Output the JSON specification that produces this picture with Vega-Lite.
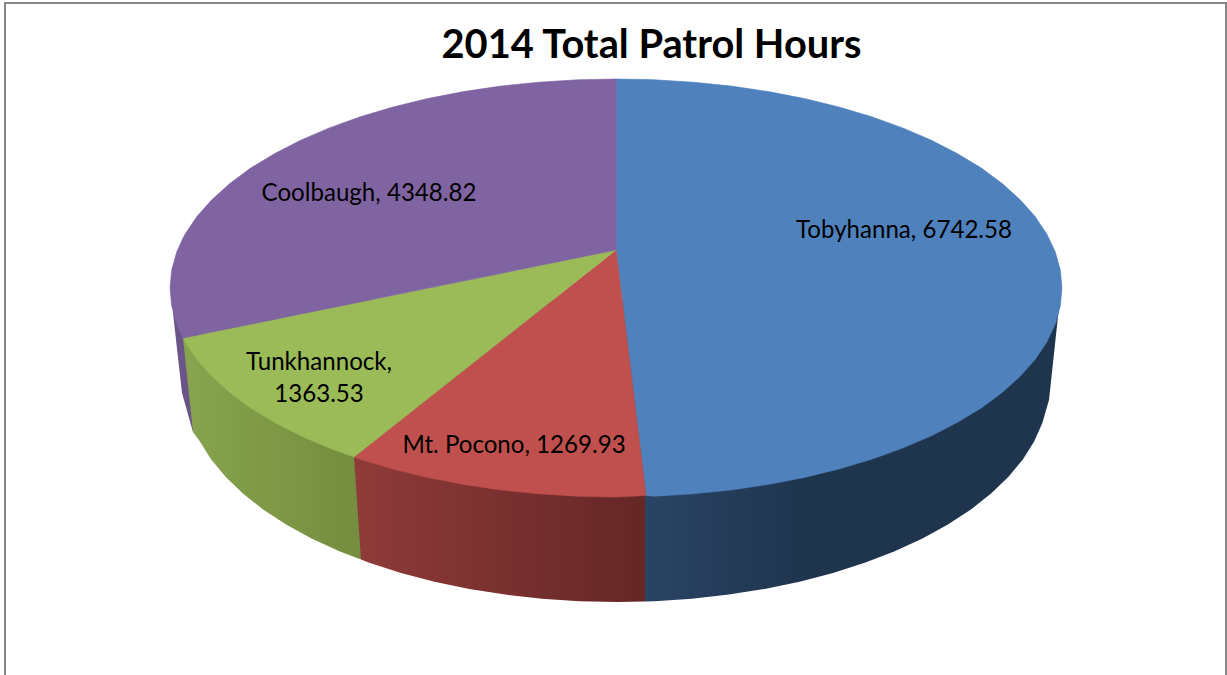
{
"$schema":"https://vega.github.io/schema/vega-lite/v6.json",
"width":1227,"height":675,"padding":0,"autosize":"none","background":"white",
"config":{"view":{"stroke":null}},
"title":{"text":"2014 Total Patrol Hours","font":"Lato","fontWeight":"bold","fontSize":39.8,"color":"#000000","anchor":"middle","dx":38,"offset":-106,"baseline":"bottom"},
"datasets":{
"frame":[{"x":5,"x2":1226,"y":3,"y2":720}],
"side":[
{"slice":"Coolbaugh","x":173,"y":300,"y2":313},{"slice":"Coolbaugh","x":176.8,"y":300,"y2":347},{"slice":"Coolbaugh","x":182,"y":300,"y2":393},{"slice":"Coolbaugh","x":193,"y":300,"y2":432},
{"slice":"Tunkhannock","x":183,"y":300,"y2":338},{"slice":"Tunkhannock","x":193,"y":300,"y2":432},{"slice":"Tunkhannock","x":199.7,"y":300,"y2":441.2},{"slice":"Tunkhannock","x":211,"y":300,"y2":459.2},{"slice":"Tunkhannock","x":225.5,"y":300,"y2":476.7},{"slice":"Tunkhannock","x":242.9,"y":300,"y2":493.5},{"slice":"Tunkhannock","x":263.1,"y":300,"y2":509.5},{"slice":"Tunkhannock","x":286.1,"y":300,"y2":524.5},{"slice":"Tunkhannock","x":311.5,"y":300,"y2":538.4},{"slice":"Tunkhannock","x":339.3,"y":300,"y2":551.2},{"slice":"Tunkhannock","x":361,"y":300,"y2":559.5},
{"slice":"Mt. Pocono","x":354,"y":300,"y2":457},{"slice":"Mt. Pocono","x":361,"y":300,"y2":559.5},{"slice":"Mt. Pocono","x":369.2,"y":300,"y2":562.8},{"slice":"Mt. Pocono","x":401,"y":300,"y2":572.9},{"slice":"Mt. Pocono","x":434.4,"y":300,"y2":581.7},{"slice":"Mt. Pocono","x":469.3,"y":300,"y2":588.9},{"slice":"Mt. Pocono","x":505.2,"y":300,"y2":594.6},{"slice":"Mt. Pocono","x":542,"y":300,"y2":598.7},{"slice":"Mt. Pocono","x":579.3,"y":300,"y2":601.2},{"slice":"Mt. Pocono","x":617,"y":300,"y2":602},{"slice":"Mt. Pocono","x":645,"y":300,"y2":601.5},
{"slice":"Tobyhanna","x":645,"y":300,"y2":601.5},{"slice":"Tobyhanna","x":654.7,"y":300,"y2":601.2},{"slice":"Tobyhanna","x":692,"y":300,"y2":598.7},{"slice":"Tobyhanna","x":728.8,"y":300,"y2":594.6},{"slice":"Tobyhanna","x":764.7,"y":300,"y2":588.9},{"slice":"Tobyhanna","x":799.6,"y":300,"y2":581.7},{"slice":"Tobyhanna","x":833,"y":300,"y2":572.9},{"slice":"Tobyhanna","x":864.8,"y":300,"y2":562.8},{"slice":"Tobyhanna","x":894.7,"y":300,"y2":551.2},{"slice":"Tobyhanna","x":922.5,"y":300,"y2":538.4},{"slice":"Tobyhanna","x":947.9,"y":300,"y2":524.5},{"slice":"Tobyhanna","x":970.9,"y":300,"y2":509.5},{"slice":"Tobyhanna","x":991.1,"y":300,"y2":493.5},{"slice":"Tobyhanna","x":1008.5,"y":300,"y2":476.7},{"slice":"Tobyhanna","x":1023,"y":300,"y2":459.2},{"slice":"Tobyhanna","x":1034.3,"y":300,"y2":441.2},{"slice":"Tobyhanna","x":1042.4,"y":300,"y2":422.7},{"slice":"Tobyhanna","x":1049,"y":300,"y2":400},{"slice":"Tobyhanna","x":1059,"y":300,"y2":307}
],
"top":[
{"slice":"Tobyhanna","x":616,"y":79,"y2":250},{"slice":"Tobyhanna","x":646,"y":79.5,"y2":495.5},{"slice":"Tobyhanna","x":654.9,"y":79.8,"y2":496.2},{"slice":"Tobyhanna","x":693.4,"y":82.2,"y2":493.8},{"slice":"Tobyhanna","x":731.4,"y":86.1,"y2":489.9},{"slice":"Tobyhanna","x":768.5,"y":91.6,"y2":484.4},{"slice":"Tobyhanna","x":804.5,"y":98.6,"y2":477.4},{"slice":"Tobyhanna","x":839,"y":107,"y2":469},{"slice":"Tobyhanna","x":871.8,"y":116.8,"y2":459.2},{"slice":"Tobyhanna","x":902.7,"y":127.9,"y2":448.1},{"slice":"Tobyhanna","x":931.4,"y":140.2,"y2":435.8},{"slice":"Tobyhanna","x":957.6,"y":153.7,"y2":422.3},{"slice":"Tobyhanna","x":981.4,"y":168.1,"y2":407.9},{"slice":"Tobyhanna","x":1002.2,"y":183.5,"y2":392.5},{"slice":"Tobyhanna","x":1020.2,"y":199.7,"y2":376.3},{"slice":"Tobyhanna","x":1035.1,"y":216.5,"y2":359.5},{"slice":"Tobyhanna","x":1046.8,"y":233.9,"y2":342.1},{"slice":"Tobyhanna","x":1055.2,"y":251.7,"y2":324.3},{"slice":"Tobyhanna","x":1060.3,"y":269.8,"y2":306.2},{"slice":"Tobyhanna","x":1062,"y":288,"y2":288},
{"slice":"Mt. Pocono","x":354,"y":457,"y2":457},{"slice":"Mt. Pocono","x":360.2,"y":452.1,"y2":459.2},{"slice":"Mt. Pocono","x":393,"y":426.2,"y2":469},{"slice":"Mt. Pocono","x":427.5,"y":398.9,"y2":477.4},{"slice":"Mt. Pocono","x":463.5,"y":370.5,"y2":484.4},{"slice":"Mt. Pocono","x":500.6,"y":341.2,"y2":489.9},{"slice":"Mt. Pocono","x":538.6,"y":311.2,"y2":493.8},{"slice":"Mt. Pocono","x":577.1,"y":280.8,"y2":496.2},{"slice":"Mt. Pocono","x":616,"y":250,"y2":497},{"slice":"Mt. Pocono","x":646,"y":495.5,"y2":495.5},
{"slice":"Tunkhannock","x":183,"y":338,"y2":338},{"slice":"Tunkhannock","x":185.2,"y":337.6,"y2":342.1},{"slice":"Tunkhannock","x":196.9,"y":335.2,"y2":359.5},{"slice":"Tunkhannock","x":211.8,"y":332.1,"y2":376.3},{"slice":"Tunkhannock","x":229.8,"y":328.5,"y2":392.5},{"slice":"Tunkhannock","x":250.6,"y":324.3,"y2":407.9},{"slice":"Tunkhannock","x":274.4,"y":319.4,"y2":422.3},{"slice":"Tunkhannock","x":300.6,"y":314.1,"y2":435.8},{"slice":"Tunkhannock","x":329.3,"y":308.3,"y2":448.1},{"slice":"Tunkhannock","x":354,"y":303.2,"y2":457},{"slice":"Tunkhannock","x":616,"y":250,"y2":250},
{"slice":"Coolbaugh","x":170,"y":288,"y2":288},{"slice":"Coolbaugh","x":171.7,"y":269.8,"y2":306.2},{"slice":"Coolbaugh","x":176.8,"y":251.7,"y2":324.3},{"slice":"Coolbaugh","x":183,"y":238,"y2":338},{"slice":"Coolbaugh","x":185.2,"y":233.9,"y2":337.6},{"slice":"Coolbaugh","x":196.9,"y":216.5,"y2":335.2},{"slice":"Coolbaugh","x":211.8,"y":199.7,"y2":332.1},{"slice":"Coolbaugh","x":229.8,"y":183.5,"y2":328.5},{"slice":"Coolbaugh","x":250.6,"y":168.1,"y2":324.3},{"slice":"Coolbaugh","x":274.4,"y":153.7,"y2":319.4},{"slice":"Coolbaugh","x":300.6,"y":140.2,"y2":314.1},{"slice":"Coolbaugh","x":329.3,"y":127.9,"y2":308.3},{"slice":"Coolbaugh","x":360.2,"y":116.8,"y2":302},{"slice":"Coolbaugh","x":393,"y":107,"y2":295.3},{"slice":"Coolbaugh","x":427.5,"y":98.6,"y2":288.3},{"slice":"Coolbaugh","x":463.5,"y":91.6,"y2":281},{"slice":"Coolbaugh","x":500.6,"y":86.1,"y2":273.5},{"slice":"Coolbaugh","x":538.6,"y":82.2,"y2":265.7},{"slice":"Coolbaugh","x":577.1,"y":79.8,"y2":257.9},{"slice":"Coolbaugh","x":616,"y":79,"y2":250}
],
"labels":[
{"slice":"Tobyhanna","hours":6742.58,"label":"Tobyhanna, 6742.58","x":904,"y":231},
{"slice":"Mt. Pocono","hours":1269.93,"label":"Mt. Pocono, 1269.93","x":514,"y":446},
{"slice":"Tunkhannock","hours":1363.53,"label":"Tunkhannock,\n1363.53","x":319,"y":363},
{"slice":"Coolbaugh","hours":4348.82,"label":"Coolbaugh, 4348.82","x":369,"y":194}
]
},
"encoding":{
"x":{"field":"x","type":"quantitative","scale":{"domain":[0,1227],"nice":false,"zero":false},"axis":null},
"y":{"field":"y","type":"quantitative","scale":{"domain":[675,0],"nice":false,"zero":false},"axis":null}
},
"layer":[
{"data":{"name":"frame"},"mark":{"type":"rect","fill":null,"fillOpacity":0,"stroke":"#868686","strokeWidth":2,"clip":true},"encoding":{"x2":{"field":"x2"},"y2":{"field":"y2"}}},
{"data":{"name":"side"},"transform":[{"filter":"datum.slice==='Coolbaugh'"}],"mark":{"type":"area","color":"#6b5488"},"encoding":{"y2":{"field":"y2"}}},
{"data":{"name":"side"},"transform":[{"filter":"datum.slice==='Tunkhannock'"}],"mark":{"type":"area","color":{"gradient":"linear","x1":0,"y1":0,"x2":1,"y2":0,"stops":[{"offset":0,"color":"#88a44e"},{"offset":1,"color":"#748d3e"}]}},"encoding":{"y2":{"field":"y2"}}},
{"data":{"name":"side"},"transform":[{"filter":"datum.slice==='Mt. Pocono'"}],"mark":{"type":"area","color":{"gradient":"linear","x1":0,"y1":0,"x2":1,"y2":0,"stops":[{"offset":0,"color":"#8f3b39"},{"offset":1,"color":"#642726"}]}},"encoding":{"y2":{"field":"y2"}}},
{"data":{"name":"side"},"transform":[{"filter":"datum.slice==='Tobyhanna'"}],"mark":{"type":"area","color":{"gradient":"linear","x1":0,"y1":0,"x2":1,"y2":0,"stops":[{"offset":0,"color":"#2a4465"},{"offset":0.4,"color":"#1f344d"},{"offset":1,"color":"#1f344d"}]}},"encoding":{"y2":{"field":"y2"}}},
{"data":{"name":"top"},"mark":{"type":"area","strokeWidth":0.6},"encoding":{"y2":{"field":"y2"},"color":{"field":"slice","type":"nominal","legend":null,"scale":{"domain":["Tobyhanna","Mt. Pocono","Tunkhannock","Coolbaugh"],"range":["#4f81bd","#c0504d","#9bbb59","#8064a2"]}},"stroke":{"field":"slice","type":"nominal","legend":null,"scale":{"domain":["Tobyhanna","Mt. Pocono","Tunkhannock","Coolbaugh"],"range":["#4f81bd","#c0504d","#9bbb59","#8064a2"]}}}},
{"data":{"name":"labels"},"mark":{"type":"text","font":"Lato","fontSize":24.1,"color":"#000000","lineBreak":"\n","lineHeight":32,"align":"center","baseline":"middle"},"encoding":{"text":{"field":"label","type":"nominal"}}}
]
}
